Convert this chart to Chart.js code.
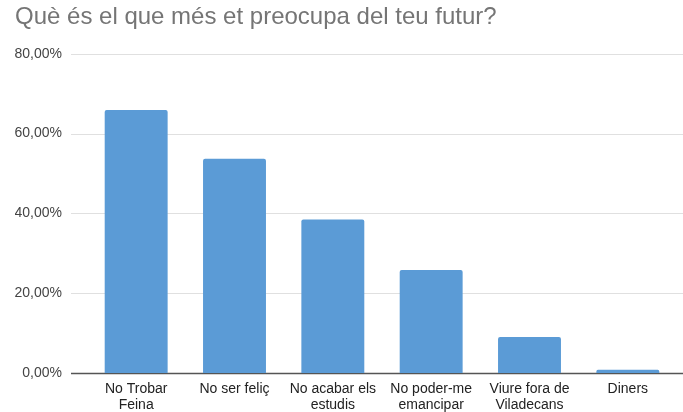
<!DOCTYPE html>
<html>
<head>
<meta charset="utf-8">
<script src="https://cdn.jsdelivr.net/npm/chart.js@4/dist/chart.umd.min.js"></script>
<style>
  html, body { margin: 0; padding: 0; background: #fff; }
  #wrap { width: 683px; height: 412px; position: relative; }
</style>
</head>
<body>
<div id="wrap"><canvas id="chart"></canvas></div>
<script>
const categories = [
    ['No Trobar', 'Feina'],
    'No ser feliç',
    ['No acabar els', 'estudis'],
    ['No poder-me', 'emancipar'],
    ['Viure fora de', 'Viladecans'],
    'Diners'
];
const percentages = [65.9, 53.7, 38.5, 25.8, 9.0, 0.8];
const yTicks = [0, 20, 40, 60, 80];

// gridlines in the original run past the plot area on both sides
const wideGrid = {
    id: 'wideGrid',
    beforeDatasetsDraw(chart) {
        const y = chart.scales.y;
        const c = chart.ctx;
        c.save();
        yTicks.forEach(function (v) {
            const py = Math.round(y.getPixelForValue(v)) + 0.5;
            c.beginPath();
            c.moveTo(71, py);
            c.lineTo(683, py);
            c.lineWidth = v === 0 ? 1.3 : 1;
            c.strokeStyle = v === 0 ? '#555' : '#e0e0e0';
            c.stroke();
        });
        c.restore();
    }
};

new Chart(document.getElementById('chart'), {
    type: 'bar',
    data: {
        labels: categories,
        datasets: [{
            data: percentages,
            backgroundColor: '#5b9bd6',
            borderRadius: 2,
            borderSkipped: 'bottom',
            barPercentage: 0.8,
            categoryPercentage: 0.8
        }]
    },
    options: {
        responsive: true,
        maintainAspectRatio: false,
        animation: false,
        layout: { padding: { left: 15, right: 6, top: 0, bottom: 0 } },
        plugins: {
            legend: { display: false },
            tooltip: { enabled: false },
            title: {
                display: true,
                text: 'Què és el que més et preocupa del teu futur?',
                align: 'start',
                color: '#757575',
                font: { family: 'Liberation Sans, Arial, sans-serif', size: 24, weight: 'normal' },
                padding: { top: 3, bottom: 22 }
            }
        },
        scales: {
            x: {
                grid: { display: false },
                border: { display: false },
                ticks: {
                    color: '#222',
                    maxRotation: 0,
                    autoSkip: false,
                    padding: 1,
                    font: { family: 'Liberation Sans, Arial, sans-serif', size: 14, lineHeight: 1.08 }
                },
                afterFit(scale) { scale.height = 39; }
            },
            y: {
                min: 0,
                max: 80,
                grid: { display: false },
                border: { display: false },
                ticks: {
                    stepSize: 20,
                    color: '#444',
                    padding: 17,
                    font: { family: 'Liberation Sans, Arial, sans-serif', size: 14 },
                    callback: function (v) { return v.toFixed(2).replace('.', ',') + '%'; }
                },
                afterFit(scale) { scale.width = 72; }
            }
        }
    },
    plugins: [wideGrid]
});
</script>
</body>
</html>
